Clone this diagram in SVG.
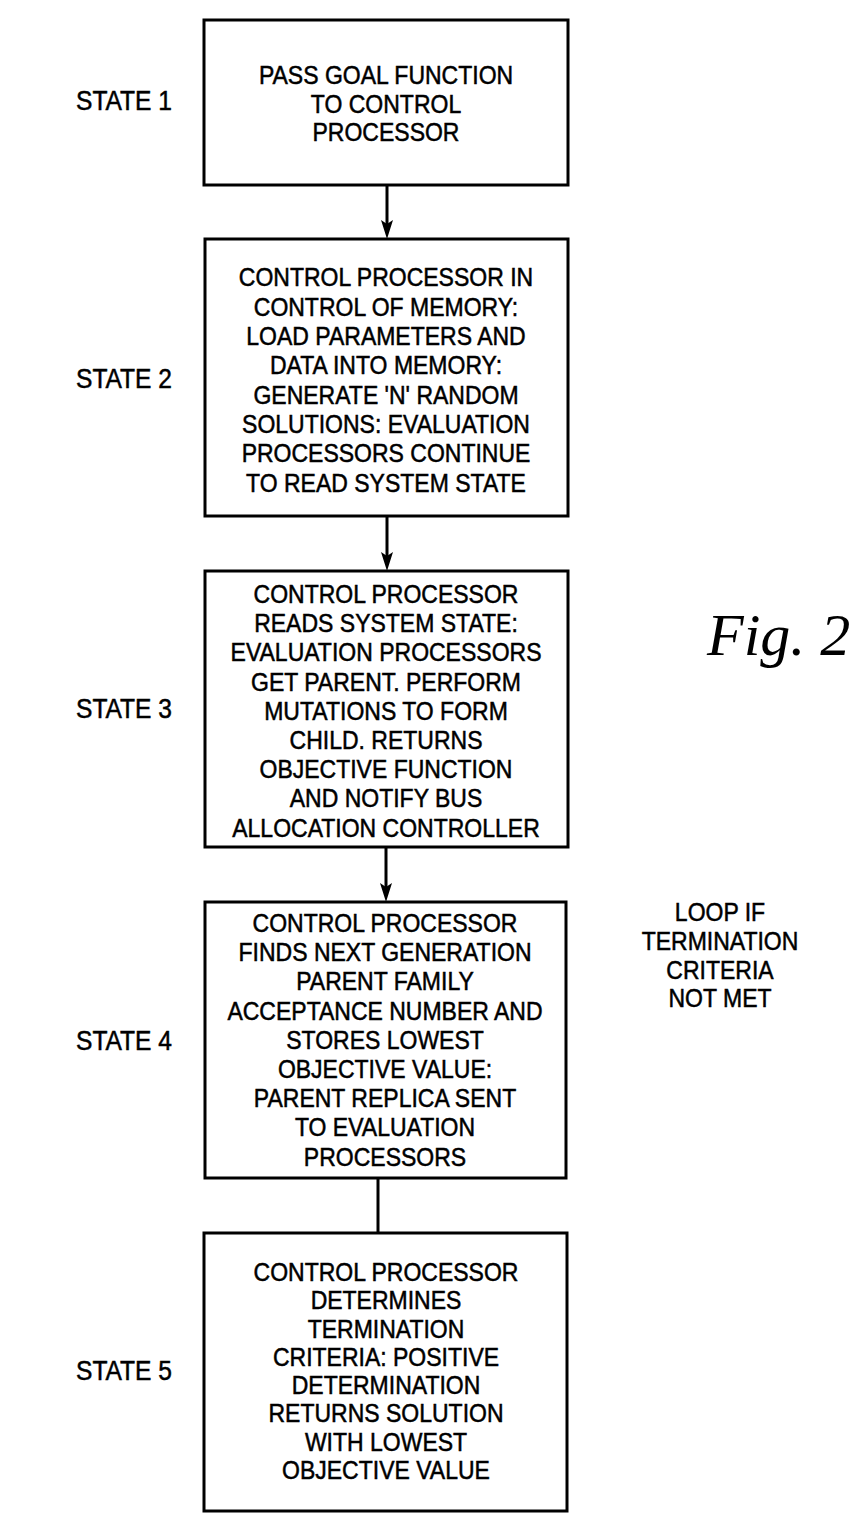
<svg xmlns="http://www.w3.org/2000/svg" width="851" height="1526" viewBox="0 0 851 1526">
<style>
.box{fill:#fff;stroke:#000;stroke-width:3}
.t{font-family:"Liberation Sans",Arial,sans-serif;font-size:25px;fill:#000;stroke:#000;stroke-width:0.5;text-anchor:middle}
.lbl{font-family:"Liberation Sans",Arial,sans-serif;font-size:27px;fill:#000;stroke:#000;stroke-width:0.5}
.fig{font-family:"Liberation Serif","Times New Roman",serif;font-style:italic;font-size:60px;fill:#000}
.conn{stroke:#000;stroke-width:3;fill:none}
.head{fill:#000}
</style>
<rect width="851" height="1526" fill="#fff"/>

<g id="connectors">
<line class="conn" x1="387" y1="185" x2="387" y2="230"/>
<path class="head" d="M381,220 L387,224 L393,220 L387,239 Z"/>
<line class="conn" x1="387" y1="516" x2="387" y2="562"/>
<path class="head" d="M381,552 L387,556 L393,552 L387,571 Z"/>
<line class="conn" x1="386" y1="847" x2="386" y2="893"/>
<path class="head" d="M380,883 L386,887 L392,883 L386,902 Z"/>
<line class="conn" x1="378" y1="1178" x2="378" y2="1233"/>
</g>

<g id="state1">
<rect class="box" x="204" y="20" width="364" height="165"/>
<g transform="translate(386 0) scale(0.92 1)">
<text class="t" x="0" y="84.5">PASS GOAL FUNCTION</text>
<text class="t" x="0" y="113">TO CONTROL</text>
<text class="t" x="0" y="141.5">PROCESSOR</text>
</g>
</g>

<g id="state2">
<rect class="box" x="205" y="239" width="363" height="277"/>
<g transform="translate(386 0) scale(0.92 1)">
<text class="t" x="0" y="286.5">CONTROL PROCESSOR IN</text>
<text class="t" x="0" y="315.8">CONTROL OF MEMORY:</text>
<text class="t" x="0" y="345.1">LOAD PARAMETERS AND</text>
<text class="t" x="0" y="374.4">DATA INTO MEMORY:</text>
<text class="t" x="0" y="403.7">GENERATE 'N' RANDOM</text>
<text class="t" x="0" y="433">SOLUTIONS: EVALUATION</text>
<text class="t" x="0" y="462.3">PROCESSORS CONTINUE</text>
<text class="t" x="0" y="491.6">TO READ SYSTEM STATE</text>
</g>
</g>

<g id="state3">
<rect class="box" x="205" y="571" width="363" height="276"/>
<g transform="translate(386 0) scale(0.92 1)">
<text class="t" x="0" y="603">CONTROL PROCESSOR</text>
<text class="t" x="0" y="632.2">READS SYSTEM STATE:</text>
<text class="t" x="0" y="661.4">EVALUATION PROCESSORS</text>
<text class="t" x="0" y="690.6">GET PARENT. PERFORM</text>
<text class="t" x="0" y="719.8">MUTATIONS TO FORM</text>
<text class="t" x="0" y="749">CHILD. RETURNS</text>
<text class="t" x="0" y="778.2">OBJECTIVE FUNCTION</text>
<text class="t" x="0" y="807.4">AND NOTIFY BUS</text>
<text class="t" x="0" y="836.6">ALLOCATION CONTROLLER</text>
</g>
</g>

<g id="state4">
<rect class="box" x="205" y="902" width="361" height="276"/>
<g transform="translate(385 0) scale(0.92 1)">
<text class="t" x="0" y="932">CONTROL PROCESSOR</text>
<text class="t" x="0" y="961.2">FINDS NEXT GENERATION</text>
<text class="t" x="0" y="990.4">PARENT FAMILY</text>
<text class="t" x="0" y="1019.6">ACCEPTANCE NUMBER AND</text>
<text class="t" x="0" y="1048.8">STORES LOWEST</text>
<text class="t" x="0" y="1078">OBJECTIVE VALUE:</text>
<text class="t" x="0" y="1107.2">PARENT REPLICA SENT</text>
<text class="t" x="0" y="1136.4">TO EVALUATION</text>
<text class="t" x="0" y="1165.6">PROCESSORS</text>
</g>
</g>

<g id="state5">
<rect class="box" x="204" y="1233" width="363" height="278"/>
<g transform="translate(386 0) scale(0.92 1)">
<text class="t" x="0" y="1281">CONTROL PROCESSOR</text>
<text class="t" x="0" y="1309.3">DETERMINES</text>
<text class="t" x="0" y="1337.6">TERMINATION</text>
<text class="t" x="0" y="1365.9">CRITERIA: POSITIVE</text>
<text class="t" x="0" y="1394.2">DETERMINATION</text>
<text class="t" x="0" y="1422.5">RETURNS SOLUTION</text>
<text class="t" x="0" y="1450.8">WITH LOWEST</text>
<text class="t" x="0" y="1479.1">OBJECTIVE VALUE</text>
</g>
</g>

<g id="labels">
<text class="lbl" x="76" y="110" textLength="96" lengthAdjust="spacingAndGlyphs">STATE 1</text>
<text class="lbl" x="76" y="388" textLength="96" lengthAdjust="spacingAndGlyphs">STATE 2</text>
<text class="lbl" x="76" y="718" textLength="96" lengthAdjust="spacingAndGlyphs">STATE 3</text>
<text class="lbl" x="76" y="1050" textLength="96" lengthAdjust="spacingAndGlyphs">STATE 4</text>
<text class="lbl" x="76" y="1380" textLength="96" lengthAdjust="spacingAndGlyphs">STATE 5</text>
</g>

<g id="loop-note" transform="translate(720 0) scale(0.92 1)">
<text class="t" x="0" y="921">LOOP IF</text>
<text class="t" x="0" y="950">TERMINATION</text>
<text class="t" x="0" y="979">CRITERIA</text>
<text class="t" x="0" y="1007">NOT MET</text>
</g>

<text class="fig" x="707" y="655">Fig. 2</text>
</svg>
